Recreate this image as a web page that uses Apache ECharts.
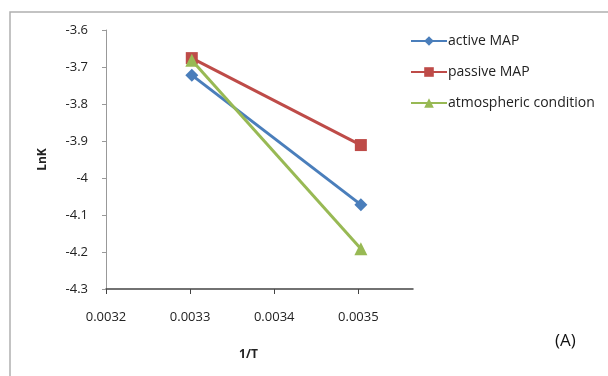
<!DOCTYPE html>
<html><head><meta charset="utf-8">
<script src="https://cdn.jsdelivr.net/npm/echarts@6/dist/echarts.min.js"></script>
<style>html,body{margin:0;padding:0;background:#fff}#c{width:608px;height:376px}</style>
</head><body><div id="c"></div>
<script>
const xValues = [0.003302, 0.003503];
const activeMAP = [-3.722, -4.072];
const passiveMAP = [-3.676, -3.911];
const atmospheric = [-3.682, -4.191];
const seriesNames = ['active MAP', 'passive MAP', 'atmospheric condition'];

function pts(ys){ return xValues.map((x,i)=>[x, ys[i]]); }

const chart = echarts.init(document.getElementById('c'));
const font = '"Open Sans", Arial, sans-serif';
chart.setOption({
  animation:false,
  backgroundColor:'#fff',
  graphic:[{type:'rect', shape:{x:10,y:12,width:610,height:380}, style:{fill:'none', stroke:'#b0b0b0', lineWidth:1.5}, silent:true},
           {type:'text', left:555, top:333, style:{text:'(A)', font:'17px '+font, fill:'#111'}}],
  grid:{left:106, right:195, top:30, bottom:87},
  legend:{orient:'vertical', left:405, top:29, itemWidth:36, itemHeight:12, itemGap:17,
    textStyle:{fontFamily:font, fontSize:14, color:'#222', padding:[0,0,0,-4]},
    data:seriesNames},
  xAxis:{type:'value', min:0.0032, max:0.003565, interval:0.0001,
    name:'1/T', nameLocation:'middle', nameGap:60,
    nameTextStyle:{fontFamily:font, fontWeight:'bold', fontSize:12, color:'#222', padding:[0,0,0,-22]},
    axisLine:{lineStyle:{color:'#444', width:1.5}},
    axisTick:{show:true, inside:false, length:5, lineStyle:{color:'#444'}},
    axisLabel:{fontFamily:font, fontSize:13, color:'#222', margin:22, showMaxLabel:false,
      formatter:v=>v.toFixed(4)},
    splitLine:{show:false}},
  yAxis:{type:'value', min:-4.3, max:-3.6, interval:0.1,
    name:'LnK', nameLocation:'middle', nameGap:57, nameRotate:90,
    nameTextStyle:{fontFamily:font, fontWeight:'bold', fontSize:12, color:'#222'},
    axisLine:{show:true, lineStyle:{color:'#999', width:1}},
    axisTick:{show:true, length:4, lineStyle:{color:'#999'}},
    axisLabel:{fontFamily:font, fontSize:13, color:'#222', margin:18,
      formatter:v=>String(Math.round(v*10)/10)},
    splitLine:{show:false}},
  series:[
    {name:seriesNames[0], type:'line', data:pts(activeMAP), symbol:'diamond', symbolSize:13,
      lineStyle:{width:3, color:'#4a7ebb'}, itemStyle:{color:'#4a7ebb'}},
    {name:seriesNames[1], type:'line', data:pts(passiveMAP), symbol:'rect', symbolSize:12,
      lineStyle:{width:3, color:'#be4b48'}, itemStyle:{color:'#be4b48'}},
    {name:seriesNames[2], type:'line', data:pts(atmospheric), symbol:'triangle', symbolSize:13,
      lineStyle:{width:3, color:'#98b954'}, itemStyle:{color:'#98b954'}}
  ]
});
</script></body></html>
